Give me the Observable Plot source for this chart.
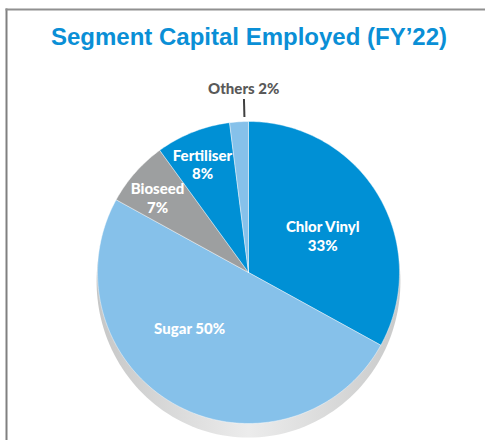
<!DOCTYPE html>
<html><head><meta charset="utf-8">
<script src="https://cdn.jsdelivr.net/npm/d3@7"></script>
<script src="https://cdn.jsdelivr.net/npm/@observablehq/plot@0.6"></script>
<style>body{margin:0;background:#fff}</style>
</head><body><div id="chart"></div>
<script>
// ---- data ----
const title = "Segment Capital Employed (FY’22)";
const segments = ["Chlor Vinyl", "Sugar", "Bioseed", "Fertiliser", "Others"];
const shares = [33, 50, 7, 8, 2];
const labelTexts = ["Chlor Vinyl\n33%", "Sugar 50%", "Bioseed\n7%", "Fertiliser\n8%", "Others 2%"];

// ---- styles / layout ----
const sliceColors = ["#0090d5", "#86c1ea", "#9d9fa0", "#0090d5", "#86c1ea"];
const labelColors = ["#ffffff", "#ffffff", "#ffffff", "#ffffff", "#595959"];
const labelRadius = [0.55, 0.535, 0.78, 0.78, 1.22];
const labelTurn = [4, 18, -2, -1.4, 2.1]; // degrees added to mid-angle

const W = 485, H = 440, cx = 248, cy = 272, R = 151;

const arcs = d3.pie().sort(null).value(d => d)(shares);

// slice polygons in unit coordinates (y up)
const slicePts = [];
arcs.forEach((a, i) => {
  const name = segments[i];
  slicePts.push({name, x: 0, y: 0});
  const n = Math.max(2, Math.ceil((a.endAngle - a.startAngle) * 180 / Math.PI));
  for (let k = 0; k <= n; k++) {
    const t = a.startAngle + (a.endAngle - a.startAngle) * k / n;
    slicePts.push({name, x: Math.sin(t), y: Math.cos(t)});
  }
  slicePts.push({name, x: 0, y: 0});
});

// shadow ellipse
const shadowPts = d3.range(0, 361, 2).map(d => {
  const t = d * Math.PI / 180;
  return {x: 1.006 * Math.sin(t), y: -0.06 + 1.033 * Math.cos(t)};
});

const labels = arcs.map((a, i) => {
  const t = (a.startAngle + a.endAngle) / 2 + labelTurn[i] * Math.PI / 180;
  return {text: labelTexts[i], color: labelColors[i], x: labelRadius[i] * Math.sin(t), y: labelRadius[i] * Math.cos(t), i};
});

const oa = arcs[4];
const ot = (oa.startAngle + oa.endAngle) / 2 + labelTurn[4] * Math.PI / 180;
const leader = [{x1: 1.15 * Math.sin(ot), y1: 1.15 * Math.cos(ot), x2: 1.03 * Math.sin(ot), y2: 1.03 * Math.cos(ot)}];

const defs = () => {
  const g = d3.create("svg:defs");
  const lg = g.append("linearGradient").attr("id", "shadowGrad").attr("x1", "0").attr("x2", "1").attr("y1", "0").attr("y2", "0");
  lg.append("stop").attr("offset", "0%").attr("stop-color", "#c6c7c7");
  lg.append("stop").attr("offset", "50%").attr("stop-color", "#ececec");
  lg.append("stop").attr("offset", "100%").attr("stop-color", "#c9caca");
  return g.node();
};

const chart = Plot.plot({
  width: W, height: H,
  marginLeft: 6, marginTop: 9, marginRight: 0, marginBottom: 0,
  x: {domain: [-1, 1], range: [cx - R, cx + R], axis: null},
  y: {domain: [-1, 1], range: [cy + R, cy - R], axis: null},
  color: {domain: segments, range: sliceColors},
  style: {background: "#fff"},
  marks: [
    defs,
    Plot.frame({anchor: "left", stroke: "#808080", strokeWidth: 2}),
    Plot.frame({anchor: "top", stroke: "#909090", strokeWidth: 2}),
    Plot.line(shadowPts, {x: "x", y: "y", fill: "url(#shadowGrad)", stroke: "none", curve: "linear"}),
    Plot.line(slicePts, {x: "x", y: "y", z: "name", fill: "name", stroke: "#ffffff", strokeWidth: 0.6, strokeOpacity: 0.7, curve: "linear"}),
    Plot.link(leader, {x1: "x1", y1: "y1", x2: "x2", y2: "y2", stroke: "#404040", strokeWidth: 2}),
    Plot.text(labels, {x: "x", y: "y", text: "text", fill: "color", fontFamily: "Lato", fontWeight: 900, fontSize: 15, lineHeight: 1.25, lineAnchor: "middle"}),
    Plot.text([title], {frameAnchor: "top", dx: 3, dy: 35, lineAnchor: "bottom", text: d => d, fill: "#0a8fd6", fontFamily: "Liberation Sans", fontWeight: "bold", fontSize: 24})
  ]
});
document.getElementById("chart").appendChild(chart);
</script>
</body></html>
